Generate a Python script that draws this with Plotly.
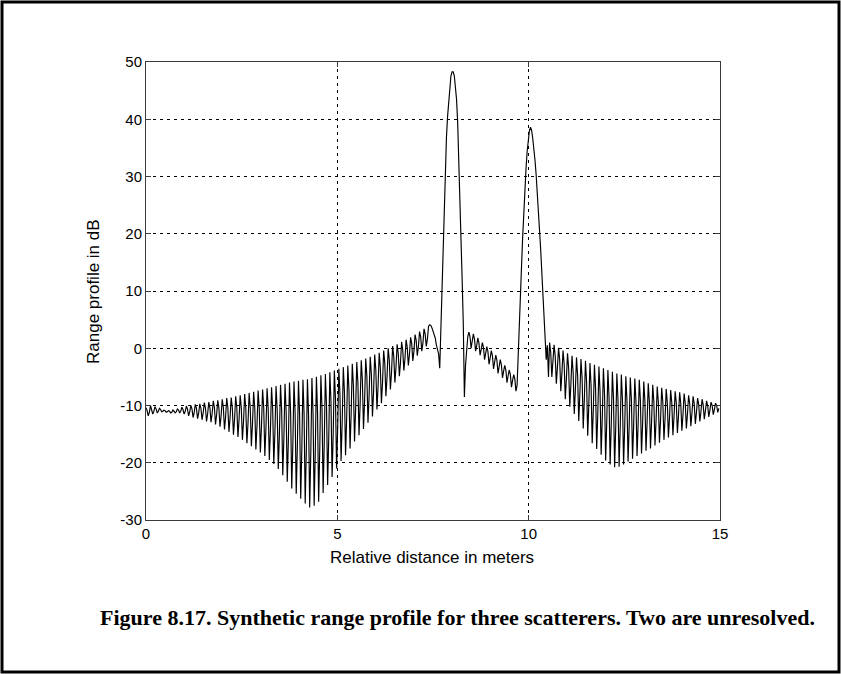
import numpy as np
import plotly.graph_objects as go

# ---------------- data ----------------
RANGE_WINDOW_M = 15.0   # unambiguous range window shown on the x axis

# each row = one range bin, 4 interpolated samples per bin (dB)
left_sidelobes_db = [
    -10.4, -10.9, -11.8, -11.2,   -10.0, -10.6, -11.5, -11.0,
    -10.2, -10.6, -11.3, -11.0,   -10.5, -10.7, -11.1, -11.0,
    -10.8, -10.9, -11.2, -11.1,   -10.9, -11.0, -11.3, -11.2,
    -10.8, -11.0, -11.3, -11.1,   -10.6, -10.8, -11.3, -11.0,
    -10.3, -10.7, -11.5, -11.0,   -10.1, -10.6, -11.8, -11.1,
    -10.0, -10.6, -12.1, -11.2,   -9.8, -10.5, -12.3, -11.3,
    -9.7, -10.5, -12.5, -11.3,    -9.5, -10.4, -12.8, -11.4,
    -9.4, -10.4, -12.9, -11.4,    -9.2, -10.3, -13.3, -11.6,
    -9.1, -10.4, -13.7, -11.8,    -8.9, -10.4, -14.2, -12.0,
    -8.7, -10.4, -14.6, -12.1,    -8.6, -10.4, -15.1, -12.4,
    -8.4, -10.4, -15.5, -12.5,    -8.2, -10.4, -16.0, -12.7,
    -8.0, -10.4, -16.6, -13.0,    -7.8, -10.4, -17.1, -13.2,
    -7.6, -10.4, -17.7, -13.5,    -7.4, -10.4, -18.2, -13.7,
    -7.2, -10.4, -18.8, -13.9,    -7.0, -10.5, -19.5, -14.3,
    -6.8, -10.6, -20.2, -14.6,    -6.6, -10.7, -21.1, -15.0,
    -6.4, -10.8, -22.2, -15.6,    -6.2, -11.0, -23.3, -16.1,
    -6.0, -11.2, -24.5, -16.7,    -5.8, -11.3, -25.4, -17.2,
    -5.7, -11.5, -26.3, -17.6,    -5.5, -11.5, -27.1, -18.0,
    -5.4, -11.7, -27.8, -18.4,    -5.2, -11.4, -27.5, -18.1,
    -5.0, -11.1, -26.8, -17.6,    -4.7, -10.5, -25.3, -16.6,
    -4.5, -9.9, -23.9, -15.8,     -4.2, -9.3, -22.5, -14.8,
    -3.9, -8.7, -21.0, -13.8,     -3.6, -8.1, -19.7, -12.9,
    -3.3, -7.6, -18.7, -12.2,     -3.0, -7.1, -17.5, -11.4,
    -2.7, -6.5, -16.3, -10.6,     -2.4, -6.0, -15.2, -9.8,
    -2.1, -5.5, -14.1, -9.1,      -1.8, -4.9, -13.0, -8.3,
    -1.5, -4.4, -11.9, -7.5,      -1.1, -3.8, -10.7, -6.7,
    -0.8, -3.3, -9.6, -5.9,       -0.4, -2.6, -8.4, -5.0,
    0.0, -2.0, -7.2, -4.2,        0.4, -1.4, -6.0, -3.3,
    0.7, -0.9, -4.9, -2.5,        1.1, -0.3, -3.9, -1.8,
    1.5, 0.2, -3.0, -1.1,         1.9, 0.8, -2.2, -0.5,
    2.4, 1.4, -1.3, 0.3,          2.9, 2.0, -0.5, 0.9,
    3.4, 2.5, 0.3, 1.6,
]

peak1_db = [
    3.8, 4.1, 4.0, 3.6,     2.9, 2.2, 1.8, 0.6,
    0.0, -1.0, -3.5, 3.5,   11.0, 18.0, 25.0, 32.0,
    36.8, 40.5, 43.5, 46.0, 47.6, 48.3, 48.3, 47.6,
    46.0, 43.5, 39.5, 33.5, 27.0, 19.5, 12.0, 4.5,
    -8.5, -3.0, 0.5, 2.0,
]

mid_sidelobes_db = [
    2.8, 2.0, 0.0, 1.0,     2.5, 1.6, -0.5, 0.5,
    1.8, 0.9, -1.2, -0.2,   1.0, 0.2, -2.0, -0.9,
    0.3, -0.6, -2.8, -1.7,  -0.4, -1.3, -3.6, -2.4,
    -1.2, -2.1, -4.4, -3.2, -2.0, -2.9, -5.2, -4.0,
    -3.0, -3.8, -6.0, -4.8, -3.8, -4.6, -6.8, -5.6,
    -4.6, -5.4, -7.5, -6.5,
]

peak2_db = [
    -2.0, 3.0, 9.0, 14.5,   19.5, 24.0, 28.0, 31.5,
    34.4, 36.6, 38.0, 38.6, 38.0, 36.6, 35.0, 32.8,
    30.3, 27.5, 24.3, 20.8, 17.4, 13.5, 9.5, 5.5,
    1.5, -2.0, 0.5, -5.0,
]

right_sidelobes_db = [
    1.0, -0.7, -5.0, -2.5,    0.6, -1.3, -6.2, -3.3,
    0.1, -2.0, -7.5, -4.3,    -0.4, -2.8, -8.9, -5.3,
    -0.9, -3.5, -10.2, -6.3,  -1.3, -4.2, -11.5, -7.2,
    -1.6, -4.7, -12.7, -8.0,  -1.9, -5.3, -14.0, -8.9,
    -2.2, -5.9, -15.3, -9.8,  -2.6, -6.5, -16.6, -10.7,
    -2.9, -7.0, -17.6, -11.4, -3.2, -7.5, -18.6, -12.1,
    -3.5, -8.0, -19.6, -12.8, -3.8, -8.4, -20.3, -13.4,
    -4.1, -8.8, -20.8, -13.8, -4.4, -9.0, -20.7, -13.9,
    -4.6, -9.0, -20.3, -13.7, -4.9, -9.1, -19.8, -13.5,
    -5.1, -9.1, -19.3, -13.3, -5.3, -9.1, -18.8, -13.1,
    -5.5, -9.1, -18.4, -13.0, -5.8, -9.2, -17.9, -12.8,
    -6.1, -9.3, -17.5, -12.7, -6.4, -9.4, -17.0, -12.5,
    -6.7, -9.4, -16.5, -12.4, -6.9, -9.4, -16.0, -12.2,
    -7.1, -9.5, -15.6, -12.0, -7.3, -9.5, -15.2, -11.9,
    -7.5, -9.5, -14.8, -11.7, -7.7, -9.6, -14.4, -11.6,
    -7.9, -9.6, -14.0, -11.4, -8.2, -9.7, -13.6, -11.3,
    -8.4, -9.7, -13.2, -11.2, -8.7, -9.8, -12.8, -11.1,
    -8.9, -9.9, -12.4, -10.9, -9.2, -10.0, -12.0, -10.8,
    -9.4, -10.0, -11.6, -10.7, -9.6, -10.0, -11.2, -10.5,
]

x_tick_vals = [0, 5, 10, 15]
x_tick_text = ["0", "5", "10", "15"]
y_tick_vals = [-30, -20, -10, 0, 10, 20, 30, 40, 50]
y_tick_text = ["-30", "-20", "-10", "0", "10", "20", "30", "40", "50"]

x_title = "Relative distance in meters"
y_title = "Range profile in dB"
caption = "Figure 8.17. Synthetic range profile for three scatterers. Two are unresolved."

# ---------------- build ----------------
profile_db = (left_sidelobes_db + peak1_db + mid_sidelobes_db
              + peak2_db + right_sidelobes_db)
n_samples = len(profile_db)
distance_m = np.arange(n_samples) * RANGE_WINDOW_M / n_samples

W, H = 841, 674
L, R, T, B = 146, 121, 62, 154
PW, PH = W - L - R, H - T - B

def px_x(px):
    return (px - L) / PW

def px_y(py):
    return (H - B - py) / PH

fig = go.Figure()
fig.add_trace(go.Scatter(
    x=distance_m, y=profile_db, mode="lines",
    line=dict(color="black", width=1.15), hoverinfo="skip", showlegend=False,
))

tick_font = dict(family="Liberation Sans, Arial, sans-serif", size=15, color="black")
title_font = dict(family="Liberation Sans, Arial, sans-serif", size=17, color="black")
axis_common = dict(
    showline=True, linecolor="#3a3a3a", linewidth=1, mirror="ticks",
    ticks="inside", ticklen=5, tickcolor="#3a3a3a", tickwidth=1,
    showgrid=True, gridcolor="black", gridwidth=1, griddash="3px,4px",
    zeroline=False, tickfont=tick_font,
)

fig.update_layout(
    width=W, height=H,
    margin=dict(l=L, r=R, t=T, b=B, pad=0),
    paper_bgcolor="white", plot_bgcolor="white",
    xaxis=dict(range=[0, 15], tickvals=x_tick_vals, ticktext=x_tick_text, **axis_common),
    yaxis=dict(range=[-30, 50], tickvals=y_tick_vals, ticktext=y_tick_text, **axis_common),
    showlegend=False,
)

fig.add_annotation(
    x=px_x(432), y=px_y(557), xref="paper", yref="paper",
    text=x_title, showarrow=False, xanchor="center", yanchor="middle",
    font=title_font,
)
fig.add_annotation(
    x=px_x(93), y=px_y(292), xref="paper", yref="paper",
    text=y_title, showarrow=False, xanchor="center", yanchor="middle",
    textangle=-90, font=title_font,
)
fig.add_annotation(
    x=px_x(457), y=px_y(617), xref="paper", yref="paper",
    text="<b>" + caption + "</b>", showarrow=False,
    xanchor="center", yanchor="middle",
    font=dict(family="Liberation Serif, Times New Roman, serif", size=22, color="black"),
)

# outer frame around the whole figure
fig.add_shape(
    type="rect", xref="paper", yref="paper",
    x0=px_x(2), x1=px_x(839), y0=px_y(672), y1=px_y(2),
    line=dict(color="black", width=3), fillcolor="rgba(0,0,0,0)", layer="above",
)

fig.write_html("out.html")
